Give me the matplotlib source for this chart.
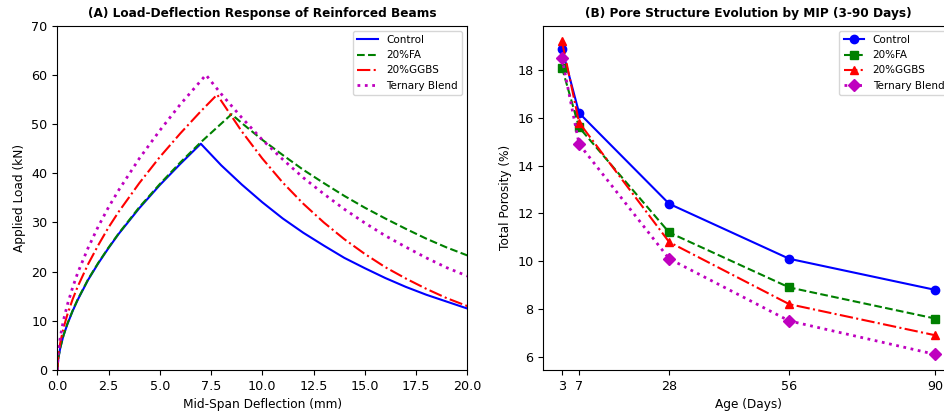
import numpy as np
import matplotlib
matplotlib.use("Agg")
import matplotlib.pyplot as plt

# (A) load-deflection, values
defl_control = [0, 0.05, 0.15, 0.3, 0.5, 0.75, 1, 1.5, 2, 2.5, 3, 4, 5, 6, 7,
                8, 9, 10, 11, 12, 13, 14, 15, 16, 17, 18, 19, 20]
load_control = [0, 2.4, 4.6, 7.0, 9.4, 12.0, 14.3, 18.3, 21.7, 24.8, 27.7, 32.9, 37.6, 41.9, 46.0,
                41.6, 37.7, 34.1, 30.8, 27.9, 25.3, 22.8, 20.7, 18.7, 16.9, 15.3, 13.9, 12.5]

defl_fa = [0, 0.05, 0.15, 0.3, 0.5, 0.75, 1, 1.5, 2, 2.5, 3, 4, 5, 6, 7, 7.5, 8, 8.5,
           9, 10, 11, 12, 13, 14, 15, 16, 17, 18, 19, 20]
load_fa = [0, 2.4, 4.6, 7.0, 9.5, 12.1, 14.4, 18.4, 21.8, 24.9, 27.8, 33.1, 37.8, 42.2, 46.3, 48.2, 50.1, 52.0,
           50.2, 46.8, 43.7, 40.7, 38.0, 35.4, 33.0, 30.8, 28.7, 26.7, 24.9, 23.3]

defl_ggbs = [0, 0.05, 0.15, 0.3, 0.5, 0.75, 1, 1.5, 2, 2.5, 3, 4, 5, 6, 7, 7.8,
             8, 9, 10, 11, 12, 13, 14, 15, 16, 17, 18, 19, 20]
load_ggbs = [0, 3.0, 5.7, 8.5, 11.4, 14.4, 17.0, 21.5, 25.4, 29.0, 32.2, 38.0, 43.3, 48.1, 52.6, 56.0,
             54.7, 48.5, 43.0, 38.1, 33.8, 30.0, 26.6, 23.6, 20.9, 18.6, 16.5, 14.6, 13.0]

defl_ternary = [0, 0.05, 0.15, 0.3, 0.5, 0.75, 1, 1.5, 2, 2.5, 3, 4, 5, 6, 7, 7.25,
                8, 9, 10, 11, 12, 13, 14, 15, 16, 17, 18, 19, 20]
load_ternary = [0, 3.7, 6.8, 10.1, 13.4, 16.8, 19.8, 24.8, 29.2, 33.1, 36.6, 43.0, 48.7, 54.0, 58.8, 60.0,
                56.1, 51.3, 46.8, 42.8, 39.1, 35.8, 32.7, 29.9, 27.3, 25.0, 22.8, 20.8, 19.1]

# (B) porosity by MIP
ages = [3, 7, 28, 56, 90]
por_control = [18.9, 16.2, 12.4, 10.1, 8.8]
por_fa = [18.1, 15.6, 11.2, 8.9, 7.6]
por_ggbs = [19.2, 15.8, 10.8, 8.2, 6.9]
por_ternary = [18.5, 14.9, 10.1, 7.5, 6.1]

labels = ['Control', '20%FA', '20%GGBS', 'Ternary Blend']

W, H = 945, 413
fig = plt.figure(figsize=(W / 100, H / 100), dpi=100)
ax1 = fig.add_axes([57.3 / W, 43 / H, 410 / W, 344.3 / H])
ax2 = fig.add_axes([543.3 / W, 43 / H, 410.4 / W, 344.3 / H])

tick_fs = 9.2
lab_fs = 8.7

# left panel
ax1.plot(defl_control, load_control, 'b-', lw=1.5, label=labels[0])
ax1.plot(defl_fa, load_fa, 'g--', lw=1.5, label=labels[1])
ax1.plot(defl_ggbs, load_ggbs, 'r-.', lw=1.5, label=labels[2])
ax1.plot(defl_ternary, load_ternary, 'm:', lw=2, label=labels[3])
ax1.set_xlim(0, 20)
ax1.set_ylim(0, 70)
ax1.set_xlabel('Mid-Span Deflection (mm)', fontsize=lab_fs)
ax1.set_ylabel('Applied Load (kN)', fontsize=lab_fs)
ax1.set_title('(A) Load-Deflection Response of Reinforced Beams', fontsize=8.7, fontweight='bold')
ax1.tick_params(labelsize=tick_fs)
ax1.legend(loc='upper right', fontsize=7.5)

# right panel
ax2.plot(ages, por_control, 'b-o', lw=1.5, label=labels[0])
ax2.plot(ages, por_fa, 'g--s', lw=1.5, label=labels[1])
ax2.plot(ages, por_ggbs, 'r-.^', lw=1.5, label=labels[2])
ax2.plot(ages, por_ternary, 'm:D', lw=2, label=labels[3])
ax2.set_xticks(ages)
ax2.set_xlabel('Age (Days)', fontsize=lab_fs)
ax2.set_ylabel('Total Porosity (%)', fontsize=lab_fs)
ax2.set_title('(B) Pore Structure Evolution by MIP (3-90 Days)', fontsize=8.7, fontweight='bold')
ax2.tick_params(labelsize=tick_fs)
ax2.legend(loc='upper right', fontsize=7.5)

fig.savefig('out.png', dpi=100)
